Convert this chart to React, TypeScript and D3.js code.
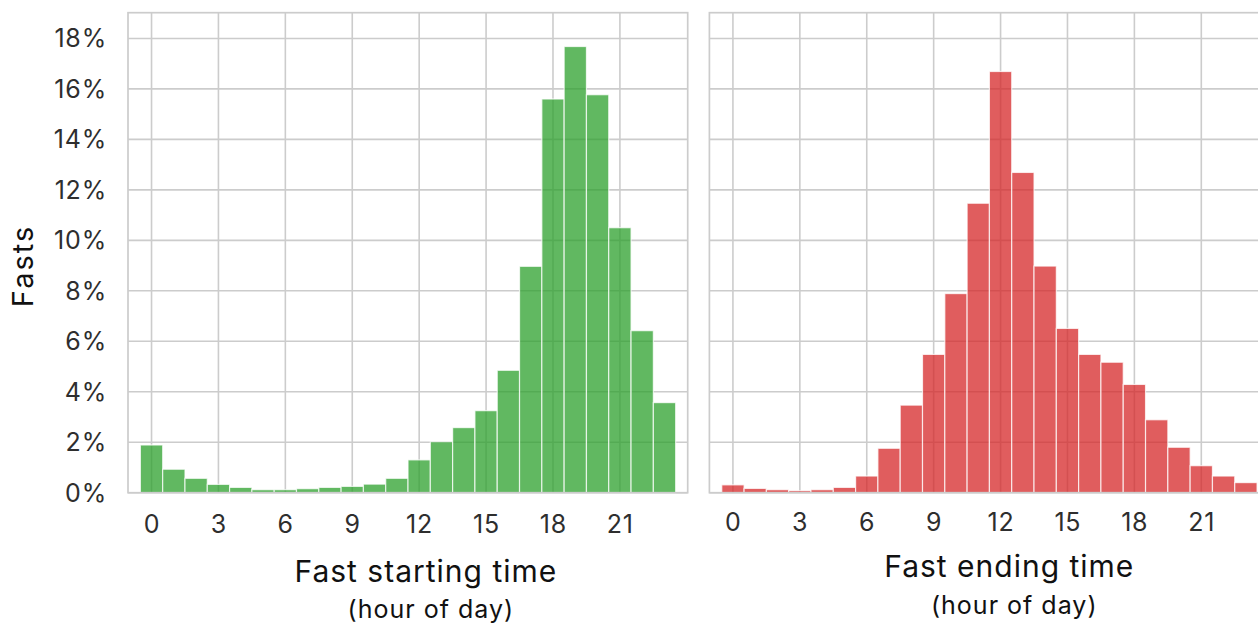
import React from "react";
import * as d3 from "d3";

const hours: number[] = d3.range(0, 24);
const startPct: number[] = [1.89, 0.93, 0.57, 0.33, 0.21, 0.12, 0.12, 0.16, 0.21, 0.25, 0.34, 0.57, 1.3, 2.02, 2.58, 3.25, 4.85, 8.97, 15.6, 17.68, 15.77, 10.5, 6.42, 3.57];
const endPct: number[] = [0.31, 0.17, 0.12, 0.08, 0.12, 0.21, 0.66, 1.76, 3.47, 5.48, 7.89, 11.47, 16.69, 12.69, 8.98, 6.51, 5.48, 5.17, 4.29, 2.89, 1.8, 1.07, 0.66, 0.4];
const yTicks: number[] = [0, 2, 4, 6, 8, 10, 12, 14, 16, 18];
const xTicks: number[] = [0, 3, 6, 9, 12, 15, 18, 21];
const yLabel = "Fasts";
const panelTitles: string[] = ["Fast starting time", "Fast ending time"];
const subTitle = "(hour of day)";

const FONT = "Inter, 'Noto Sans', sans-serif";
const TEXT = "#2e2e2e";
const GRID = "#cccccc";

const W = 1258;
const H = 623;
const top = 12.7;
const bottom = 492.7;
const panelW = 559.7;
const panelLefts = [128, 709.4];

type PanelProps = {
  left: number;
  values: number[];
  color: string;
  showY: boolean;
  title: string;
  titleDx: number;
  titleY: number;
  subY: number;
  tickY: number;
};

function Panel({ left, values, color, showY, title, titleDx, titleY, subY, tickY }: PanelProps) {
  const x = d3.scaleLinear().domain([-1.055, 24.04]).range([left, left + panelW]);
  const y = d3.scaleLinear().domain([0, 19.02]).range([bottom, top]);
  return (
    <g>
      {yTicks.map((t) => (
        <line key={"gy" + t} x1={left} x2={left + panelW} y1={y(t)} y2={y(t)} stroke={GRID} strokeWidth={1.6} />
      ))}
      {xTicks.map((t) => (
        <line key={"gx" + t} x1={x(t)} x2={x(t)} y1={top} y2={bottom} stroke={GRID} strokeWidth={1.6} />
      ))}
      {hours.map((h, i) => (
        <rect
          key={"b" + h}
          x={x(h - 0.5)}
          y={y(values[i])}
          width={x(h + 0.5) - x(h - 0.5)}
          height={y(0) - y(values[i])}
          fill={color}
          fillOpacity={0.75}
          stroke="#ffffff"
          strokeOpacity={0.75}
          strokeWidth={1.2}
        />
      ))}
      <rect x={left} y={top} width={panelW} height={bottom - top} fill="none" stroke={GRID} strokeWidth={1.7} />
      {showY &&
        yTicks.map((t) => (
          <text key={"ly" + t} x={left - 21} y={y(t)} dy="0.36em" textAnchor="end" fontFamily={FONT} fontSize={25} letterSpacing={0.8} fill={TEXT}>
            {t}%
          </text>
        ))}
      {xTicks.map((t) => (
        <text key={"lx" + t} x={x(t) + 0.4} y={tickY} textAnchor="middle" fontFamily={FONT} fontSize={25} letterSpacing={0.8} fill={TEXT}>
          {t}
        </text>
      ))}
      <text x={left + panelW / 2 + titleDx} y={titleY} textAnchor="middle" fontFamily={FONT} fontSize={30} letterSpacing={1} fill="#111">
        {title}
      </text>
      <text x={left + panelW / 2 + titleDx + 5} y={subY} textAnchor="middle" fontFamily={FONT} fontSize={25} letterSpacing={1} fill="#111">
        {subTitle}
      </text>
    </g>
  );
}

export default function App() {
  return (
    <svg width={W} height={H} style={{ position: "absolute", left: 0, top: 0, background: "#fff" }}>
      <rect x={0} y={0} width={W} height={H} fill="#fff" />
      <Panel left={panelLefts[0]} values={startPct} color="#2ca02c" showY={true} title={panelTitles[0]} titleDx={18} titleY={582} subY={618} tickY={533} />
      <Panel left={panelLefts[1]} values={endPct} color="#d62728" showY={false} title={panelTitles[1]} titleDx={20} titleY={577} subY={614} tickY={531} />
      <text transform="translate(33,266) rotate(-90)" textAnchor="middle" fontFamily={FONT} fontSize={29} letterSpacing={2} fill="#111">
        {yLabel}
      </text>
    </svg>
  );
}
